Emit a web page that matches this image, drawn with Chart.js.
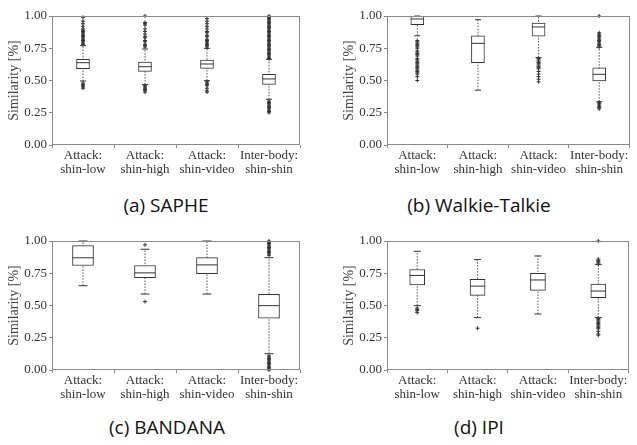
<!DOCTYPE html>
<html>
<head>
<meta charset="utf-8">
<script src="https://cdn.jsdelivr.net/npm/chart.js@4.4.0/dist/chart.umd.min.js"></script>
<style>
  body { margin: 0; background: #fff; width: 637px; height: 445px; position: relative; overflow: hidden; }
  canvas { position: absolute; }
  .caption { position: absolute; width: 300px; text-align: center; font-family: "Open Sans", sans-serif; font-size: 19px; line-height: 26px; color: #111; }
</style>
</head>
<body>
<canvas id="chartA" width="318" height="180" style="left:0;top:0"></canvas>
<canvas id="chartB" width="319" height="180" style="left:318px;top:0"></canvas>
<canvas id="chartC" width="318" height="180" style="left:0;top:225px"></canvas>
<canvas id="chartD" width="319" height="180" style="left:318px;top:225px"></canvas>
<div class="caption" style="left:16px;top:192px">(a) SAPHE</div>
<div class="caption" style="left:329px;top:192px">(b) Walkie-Talkie</div>
<div class="caption" style="left:17px;top:414px">(c) BANDANA</div>
<div class="caption" style="left:329px;top:414px">(d) IPI</div>
<script>
const categories = ["shin-low", "shin-high", "shin-video", "shin-shin"];
const tickLines = [["Attack:", "shin-low"], ["Attack:", "shin-high"], ["Attack:", "shin-video"], ["Inter-body:", "shin-shin"]];
const yTicks = [0, 0.25, 0.5, 0.75, 1.0];

// [lower whisker, q1, median, q3, upper whisker] per category
const sapheBoxes = [
  [0.496, 0.592, 0.638, 0.664, 0.770],
  [0.468, 0.571, 0.607, 0.643, 0.744],
  [0.499, 0.594, 0.628, 0.659, 0.749],
  [0.354, 0.470, 0.512, 0.548, 0.664]
];
const sapheFliers = [
  [0.44, 0.45, 0.46, 0.47, 0.48, 0.78, 0.79, 0.80, 0.81, 0.82, 0.83, 0.84, 0.85, 0.86, 0.87, 0.88, 0.89, 0.90, 0.92, 0.94, 0.96, 0.99],
  [0.41, 0.42, 0.43, 0.44, 0.45, 0.46, 0.76, 0.77, 0.78, 0.80, 0.81, 0.83, 0.84, 0.86, 0.88, 0.90, 0.93, 0.94, 0.95, 1.00],
  [0.41, 0.42, 0.44, 0.46, 0.47, 0.48, 0.49, 0.76, 0.77, 0.78, 0.79, 0.80, 0.81, 0.82, 0.84, 0.85, 0.87, 0.88, 0.90, 0.92, 0.94, 0.96, 0.98],
  [0.25, 0.26, 0.27, 0.28, 0.29, 0.30, 0.31, 0.32, 0.33, 0.34, 0.67, 0.68, 0.69, 0.70, 0.71, 0.72, 0.73, 0.74, 0.75, 0.76, 0.77, 0.78,
   0.79, 0.80, 0.81, 0.82, 0.83, 0.84, 0.85, 0.86, 0.87, 0.88, 0.89, 0.90, 0.91, 0.92, 0.93, 0.94, 0.95, 0.96, 0.97, 0.98, 0.99, 1.00]
];

const walkieBoxes = [
  [0.847, 0.933, 0.977, 0.998, 1.000],
  [0.425, 0.638, 0.788, 0.847, 0.971],
  [0.678, 0.843, 0.915, 0.946, 1.000],
  [0.336, 0.496, 0.548, 0.599, 0.757]
];
const walkieFliers = [
  [0.50, 0.53, 0.55, 0.56, 0.57, 0.58, 0.59, 0.60, 0.61, 0.62, 0.63, 0.64, 0.65, 0.66, 0.67, 0.69, 0.70, 0.71, 0.72, 0.73, 0.75, 0.76, 0.77, 0.78, 0.79, 0.80, 0.81],
  [],
  [0.49, 0.51, 0.53, 0.55, 0.57, 0.59, 0.60, 0.61, 0.62, 0.63, 0.64, 0.65, 0.66, 0.67],
  [0.28, 0.29, 0.30, 0.31, 0.32, 0.33, 0.76, 0.77, 0.78, 0.79, 0.80, 0.81, 0.82, 0.83, 0.84, 0.85, 0.86, 0.87, 1.00]
];

const bandanaBoxes = [
  [0.653, 0.810, 0.870, 0.964, 1.000],
  [0.589, 0.715, 0.753, 0.810, 0.936],
  [0.589, 0.746, 0.815, 0.871, 1.000],
  [0.126, 0.401, 0.499, 0.586, 0.871]
];
const bandanaFliers = [
  [],
  [0.53, 0.97],
  [],
  [0.00, 0.01, 0.02, 0.03, 0.04, 0.05, 0.06, 0.07, 0.08, 0.09, 0.10, 0.11, 0.89, 0.90, 0.91, 0.92, 0.93, 0.94, 0.95, 0.96, 0.97, 0.98, 0.99, 1.00]
];

const ipiBoxes = [
  [0.499, 0.660, 0.733, 0.779, 0.920],
  [0.406, 0.578, 0.650, 0.702, 0.856],
  [0.434, 0.617, 0.698, 0.750, 0.884],
  [0.406, 0.560, 0.612, 0.667, 0.819]
];
const ipiFliers = [
  [0.445, 0.46, 0.47, 0.48],
  [0.324],
  [],
  [0.27, 0.28, 0.30, 0.32, 0.33, 0.34, 0.35, 0.36, 0.37, 0.38, 0.39, 0.40, 0.82, 0.83, 0.84, 0.85, 0.86, 1.00]
];

var serif = "'Liberation Serif', 'DejaVu Serif', serif";
var axisGrey = "#8a8a8a";

// full frame round the plot area
var framePlugin = {
  id: "frame",
  afterDatasetsDraw: function (chart) {
    var a = chart.chartArea;
    var ctx = chart.ctx;
    ctx.save();
    ctx.strokeStyle = axisGrey;
    ctx.lineWidth = 1;
    ctx.strokeRect(Math.round(a.left) + 0.5, Math.round(a.top) + 0.5, Math.round(a.right - a.left) - 1, Math.round(a.bottom - a.top) - 1);
    ctx.restore();
  }
};

function makeChart(id, boxes, fliers, padLeft, padRight, boxW, capW) {
  var datasets = [];

  // whiskers (dotted), drawn behind the boxes
  boxes.forEach(function (b, i) {
    datasets.push({
      type: "line",
      data: [{ x: categories[i], y: b[0] }, { x: categories[i], y: b[4] }],
      borderColor: "#555",
      borderWidth: 1,
      borderDash: [1.5, 1.5],
      pointRadius: 0,
      order: 4,
      clip: false
    });
  });

  datasets.push({
    type: "bar",
    data: boxes.map(function (b) { return [b[1], b[3]]; }),
    backgroundColor: "#fff",
    borderColor: "#333",
    borderWidth: 1,
    borderSkipped: false,
    barThickness: boxW,
    order: 3
  });

  // medians
  datasets.push({
    type: "line",
    showLine: false,
    data: boxes.map(function (b, i) { return { x: categories[i], y: b[2] }; }),
    pointStyle: "line",
    pointRadius: boxW / 2,
    pointBorderColor: "#333",
    pointBorderWidth: 1,
    order: 2,
    clip: false
  });

  // whisker caps
  var caps = [];
  boxes.forEach(function (b, i) {
    caps.push({ x: categories[i], y: b[0] });
    caps.push({ x: categories[i], y: b[4] });
  });
  datasets.push({
    type: "line",
    showLine: false,
    data: caps,
    pointStyle: "line",
    pointRadius: capW / 2,
    pointBorderColor: "#333",
    pointBorderWidth: 1,
    order: 2,
    clip: false
  });

  // outliers
  var pts = [];
  fliers.forEach(function (list, i) {
    list.forEach(function (v) { pts.push({ x: categories[i], y: v }); });
  });
  datasets.push({
    type: "line",
    showLine: false,
    data: pts,
    pointStyle: "cross",
    pointRadius: 2,
    pointBorderColor: "#333",
    pointBorderWidth: 1,
    order: 1,
    clip: false
  });

  var ctx = document.getElementById(id).getContext("2d");
  return new Chart(ctx, {
    type: "bar",
    data: { labels: categories, datasets: datasets },
    options: {
      responsive: false,
      animation: false,
      events: [],
      layout: { padding: { top: 16, left: padLeft, right: padRight, bottom: 0 } },
      plugins: { legend: { display: false }, tooltip: { enabled: false } },
      scales: {
        x: {
          offset: true,
          grid: { display: true, drawOnChartArea: false, drawTicks: true, tickLength: 3, color: axisGrey },
          border: { display: false },
          ticks: {
            autoSkip: false,
            maxRotation: 0,
            padding: 1,
            color: "#333",
            font: { family: serif, size: 13, lineHeight: 1.05 },
            callback: function (v, i) { return tickLines[i]; }
          },
          afterFit: function (scale) { scale.height = 35; }
        },
        y: {
          min: 0,
          max: 1,
          grid: { display: true, drawOnChartArea: false, drawTicks: true, tickLength: 3, color: axisGrey },
          border: { display: false },
          afterBuildTicks: function (scale) {
            scale.ticks = yTicks.map(function (v) { return { value: v }; });
          },
          ticks: {
            padding: 2,
            color: "#333",
            font: { family: serif, size: 13 },
            callback: function (v) { return Number(v).toFixed(2); }
          },
          title: {
            display: true,
            text: "Similarity [%]",
            color: "#444",
            font: { family: serif, size: 14 },
            padding: { top: 6, bottom: 0 }
          },
          afterFit: function (scale) { scale.width = 52; }
        }
      }
    },
    plugins: [framePlugin]
  });
}

makeChart("chartA", sapheBoxes, sapheFliers, 0, 18, 13, 6);
makeChart("chartB", walkieBoxes, walkieFliers, 17, 4, 13, 6);
makeChart("chartC", bandanaBoxes, bandanaFliers, 0, 18, 21, 9);
makeChart("chartD", ipiBoxes, ipiFliers, 17, 4, 15, 7);
</script>
</body>
</html>
